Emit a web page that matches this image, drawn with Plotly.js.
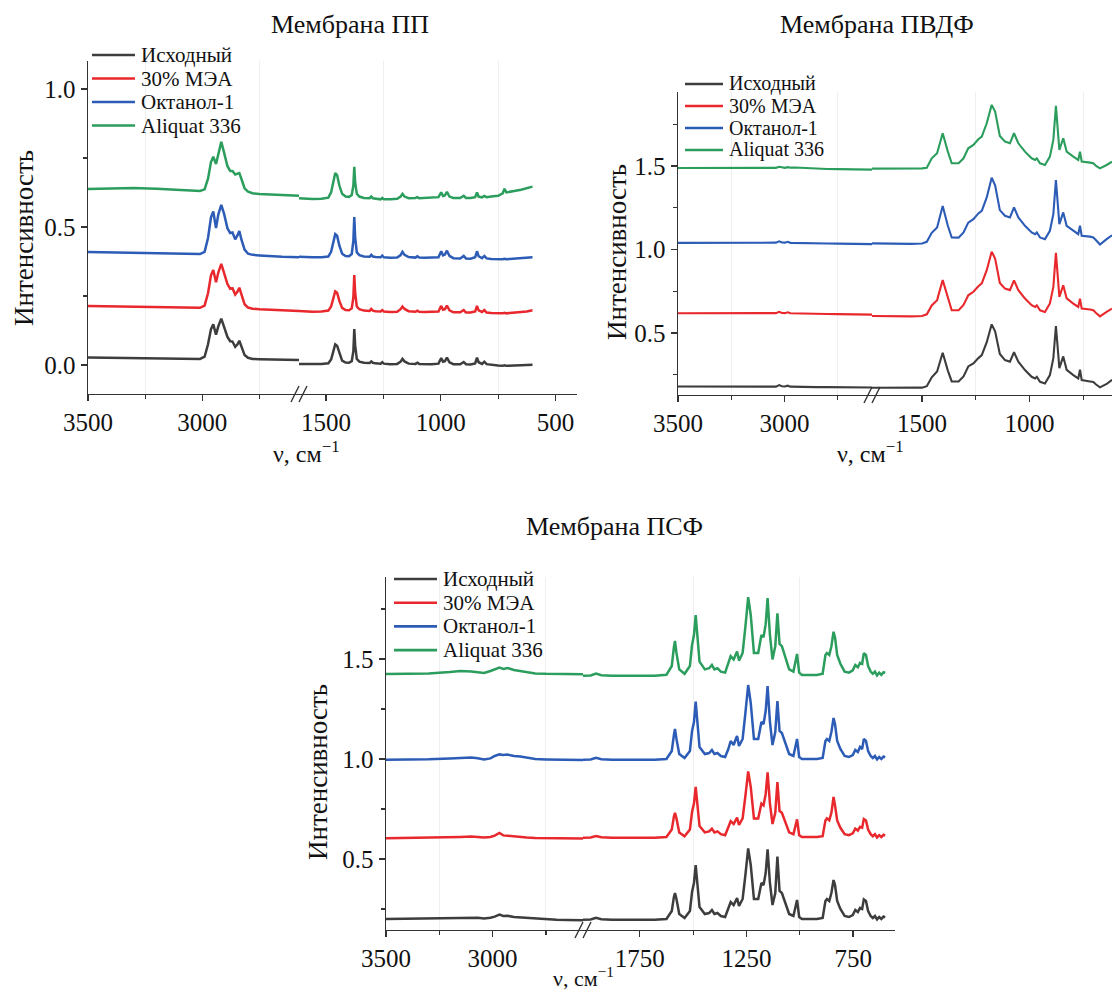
<!DOCTYPE html>
<html>
<head>
<meta charset="utf-8">
<script src="https://cdn.plot.ly/plotly-3.0.1.min.js"></script>
<style>html,body{margin:0;padding:0;background:#fff}#chart{width:1112px;height:993px}</style>
</head>
<body>
<div id="chart"></div>
<script>
// ---------- data: series names ----------
const SERIES_NAMES = ['Исходный', '30% МЭА', 'Октанол-1', 'Aliquat 336'];
const PANEL_TITLES = ['Мембрана ПП', 'Мембрана ПВДФ', 'Мембрана ПСФ'];

// ---------- Мембрана ПП ----------
const PP_L_X = [3500,3400,3300,3200,3100,3050,3010,2990,2975,2962,
  2952,2940,2930,2917,2905,2890,2878,2868,2856,2846,
  2838,2828,2815,2800,2780,2750,2700,2650,2577];
const PP_L_ISX = [0.027,0.026,0.025,0.024,0.023,0.022,0.022,0.03,0.075,0.13,
  0.147,0.11,0.14,0.168,0.142,0.102,0.086,0.085,0.066,0.075,
  0.088,0.062,0.036,0.026,0.022,0.021,0.02,0.019,0.018];
const PP_L_MEA = [0.214,0.213,0.212,0.211,0.209,0.208,0.207,0.215,0.26,0.325,
  0.344,0.30,0.335,0.366,0.335,0.293,0.276,0.278,0.255,0.266,
  0.28,0.25,0.22,0.208,0.204,0.202,0.2,0.198,0.196];
const PP_L_OCT = [0.409,0.408,0.407,0.406,0.404,0.403,0.402,0.41,0.46,0.535,
  0.556,0.496,0.545,0.58,0.548,0.495,0.478,0.48,0.455,0.47,
  0.485,0.452,0.418,0.403,0.399,0.397,0.394,0.392,0.39];
const PP_L_ALQ = [0.637,0.64,0.641,0.638,0.634,0.632,0.63,0.636,0.675,0.735,
  0.754,0.728,0.76,0.808,0.77,0.72,0.703,0.703,0.69,0.692,
  0.695,0.672,0.64,0.628,0.622,0.619,0.617,0.615,0.613];

const PP_R_X = [1618,1600,1560,1520,1490,1478,1468,1460,1452,1442,
  1430,1415,1400,1388,1381,1377,1373,1366,1355,1335,
  1310,1303,1296,1285,1262,1255,1248,1220,1190,1175,
  1167,1158,1140,1110,1102,1094,1070,1040,1010,998,
  990,982,973,962,945,915,900,890,870,850,
  842,835,820,810,800,780,750,730,722,714,
  700,680,650,625,600];
const PP_R_ISX = [0.004,0.004,0.003,0.004,0.006,0.02,0.05,0.075,0.07,0.042,
  0.016,0.009,0.008,0.014,0.05,0.13,0.07,0.022,0.012,0.008,
  0.007,0.013,0.008,0.006,0.005,0.01,0.005,0.003,0.004,0.012,
  0.022,0.013,0.005,0.004,0.008,0.004,0.003,0.003,0.005,0.025,
  0.012,0.014,0.027,0.01,0.003,0.003,0.011,0.003,0.002,0.006,
  0.027,0.01,0.004,0.012,0.003,0.0,-0.002,-0.003,-0.001,-0.003,
  -0.002,-0.002,-0.001,0.0,0.001];
const PP_R_MEA = [0.196,0.195,0.193,0.194,0.197,0.212,0.242,0.267,0.262,0.232,
  0.207,0.199,0.198,0.205,0.245,0.326,0.26,0.212,0.202,0.197,
  0.196,0.203,0.197,0.195,0.194,0.199,0.194,0.192,0.193,0.202,
  0.212,0.203,0.195,0.193,0.197,0.193,0.192,0.192,0.194,0.214,
  0.2,0.202,0.215,0.198,0.191,0.191,0.199,0.19,0.19,0.194,
  0.214,0.198,0.192,0.199,0.19,0.188,0.187,0.187,0.189,0.187,
  0.188,0.189,0.191,0.194,0.198];
const PP_R_OCT = [0.392,0.391,0.39,0.39,0.393,0.41,0.445,0.474,0.468,0.432,
  0.403,0.395,0.394,0.402,0.45,0.536,0.46,0.408,0.398,0.393,
  0.392,0.399,0.393,0.391,0.39,0.396,0.39,0.388,0.389,0.398,
  0.41,0.399,0.391,0.389,0.394,0.389,0.388,0.388,0.39,0.412,
  0.397,0.4,0.414,0.395,0.387,0.386,0.395,0.386,0.385,0.39,
  0.412,0.394,0.387,0.395,0.386,0.384,0.383,0.383,0.385,0.383,
  0.384,0.385,0.386,0.388,0.39];
const PP_R_ALQ = [0.604,0.603,0.601,0.602,0.606,0.625,0.66,0.695,0.688,0.65,
  0.62,0.61,0.609,0.616,0.65,0.718,0.66,0.62,0.61,0.605,
  0.604,0.61,0.604,0.602,0.6,0.605,0.6,0.6,0.602,0.61,
  0.62,0.61,0.604,0.605,0.608,0.604,0.605,0.607,0.608,0.625,
  0.612,0.614,0.627,0.61,0.605,0.605,0.613,0.605,0.605,0.608,
  0.625,0.61,0.607,0.612,0.608,0.61,0.613,0.622,0.638,0.625,
  0.626,0.63,0.635,0.64,0.646];

// ---------- Мембрана ПВДФ ----------
const PVDF_L_X = [3500,3400,3300,3200,3100,3060,3040,3025,3012,2998,
  2985,2972,2950,2900,2850,2800,2750,2700,2650,2589];
const PVDF_L_ISX = [0.18,0.18,0.179,0.179,0.178,0.178,0.179,0.188,0.181,0.18,
  0.185,0.179,0.178,0.177,0.176,0.176,0.175,0.175,0.174,0.174];
const PVDF_L_MEA = [0.618,0.619,0.62,0.62,0.619,0.618,0.619,0.627,0.62,0.619,
  0.624,0.618,0.617,0.616,0.615,0.614,0.613,0.612,0.611,0.61];
const PVDF_L_OCT = [1.04,1.041,1.042,1.042,1.041,1.04,1.041,1.049,1.042,1.041,
  1.046,1.04,1.039,1.038,1.037,1.036,1.035,1.034,1.033,1.032];
const PVDF_L_ALQ = [1.488,1.488,1.489,1.49,1.489,1.488,1.489,1.495,1.49,1.489,
  1.493,1.49,1.491,1.487,1.484,1.482,1.481,1.48,1.479,1.478];

const PVDF_R_X = [1733,1700,1650,1600,1550,1500,
  1478,1455,1430,1404,1380,1362,
  1330,1307,1285,1261,1238,1222,
  1199,1176,1160,1138,1114,1091,
  1072,1052,1021,990,974,966,
  951,928,905,889,877,861,
  843,827,796,773,765,757,
  718,703,690,672,641,616];
const PVDF_R_ISX = [0.172,0.172,0.171,0.17,0.17,0.173,
  0.182,0.235,0.27,0.382,0.275,0.21,
  0.21,0.24,0.30,0.318,0.35,0.368,
  0.445,0.552,0.51,0.375,0.338,0.328,
  0.385,0.328,0.278,0.238,0.228,0.238,
  0.208,0.198,0.248,0.35,0.542,0.29,
  0.36,0.28,0.248,0.228,0.28,0.218,
  0.21,0.207,0.192,0.175,0.195,0.22];
const PVDF_R_MEA = [0.602,0.601,0.6,0.6,0.6,0.602,
  0.612,0.665,0.697,0.817,0.705,0.636,
  0.636,0.668,0.726,0.747,0.78,0.797,
  0.876,0.987,0.946,0.8,0.766,0.757,
  0.815,0.757,0.706,0.667,0.656,0.666,
  0.636,0.626,0.677,0.776,0.98,0.716,
  0.786,0.707,0.676,0.656,0.706,0.646,
  0.641,0.636,0.62,0.6,0.627,0.646];
const PVDF_R_OCT = [1.037,1.036,1.035,1.034,1.034,1.036,
  1.046,1.1,1.132,1.26,1.142,1.072,
  1.071,1.102,1.161,1.182,1.216,1.232,
  1.312,1.43,1.385,1.236,1.202,1.192,
  1.252,1.192,1.142,1.102,1.092,1.102,
  1.072,1.062,1.112,1.212,1.415,1.152,
  1.222,1.142,1.112,1.092,1.142,1.082,
  1.077,1.072,1.055,1.03,1.062,1.085];
const PVDF_R_ALQ = [1.484,1.484,1.483,1.483,1.484,1.486,
  1.49,1.546,1.576,1.696,1.586,1.516,
  1.516,1.546,1.606,1.626,1.66,1.676,
  1.756,1.866,1.826,1.68,1.646,1.636,
  1.696,1.636,1.586,1.546,1.536,1.546,
  1.516,1.506,1.556,1.656,1.86,1.596,
  1.666,1.586,1.556,1.536,1.586,1.526,
  1.52,1.516,1.50,1.486,1.506,1.526];

// ---------- Мембрана ПСФ ----------
const PSF_L_X = [3500,3400,3300,3200,3150,3100,3070,3040,3010,2990,
  2968,2950,2930,2900,2870,2840,2800,2750,2700,2650,2576];
const PSF_L_ISX = [0.2,0.201,0.202,0.203,0.205,0.207,0.206,0.203,0.206,0.212,
  0.222,0.215,0.216,0.21,0.208,0.203,0.2,0.198,0.196,0.195,0.194];
const PSF_L_MEA = [0.604,0.605,0.607,0.609,0.61,0.612,0.611,0.607,0.61,0.617,
  0.63,0.618,0.616,0.612,0.611,0.607,0.605,0.604,0.603,0.603,0.602];
const PSF_L_OCT = [0.996,0.997,0.999,1.003,1.006,1.008,1.004,0.998,1.003,1.015,
  1.023,1.02,1.022,1.015,1.012,1.006,1.0,0.998,0.997,0.996,0.995];
const PSF_L_ALQ = [1.425,1.426,1.428,1.435,1.44,1.438,1.433,1.43,1.44,1.45,
  1.457,1.45,1.455,1.445,1.44,1.432,1.428,1.426,1.425,1.424,1.424];

const PSF_R_X = [2016,1980,1955,1930,1880,1820,1750,1680,1625,1600,
  1590,1585,1578,1565,1540,1515,1505,1496,1488,1480,
  1470,1445,1425,1412,1400,1386,1370,1350,1335,1324,
  1310,1300,1294,1285,1268,1255,1242,1230,1215,1195,
  1180,1170,1160,1151,1140,1128,1115,1105,1095,1084,
  1070,1050,1030,1013,1003,990,960,920,893,880,
  873,862,852,842,835,825,810,790,770,752,
  740,728,718,708,700,690,680,668,658,648,
  638,628,618,608,600];
const PSF_R_ISX = [0.196,0.198,0.206,0.199,0.196,0.195,0.195,0.196,0.2,0.24,
  0.31,0.33,0.3,0.225,0.205,0.24,0.335,0.38,0.47,0.38,
  0.26,0.225,0.23,0.245,0.225,0.23,0.215,0.21,0.25,0.285,
  0.27,0.29,0.305,0.265,0.3,0.42,0.553,0.47,0.3,0.3,
  0.38,0.37,0.43,0.548,0.38,0.27,0.33,0.512,0.34,0.33,
  0.29,0.225,0.215,0.295,0.21,0.2,0.2,0.2,0.205,0.29,
  0.3,0.29,0.33,0.395,0.37,0.29,0.25,0.215,0.21,0.22,
  0.245,0.235,0.255,0.25,0.298,0.29,0.24,0.215,0.205,0.215,
  0.198,0.21,0.2,0.212,0.208];
const PSF_R_MEA = [0.606,0.608,0.615,0.609,0.606,0.605,0.605,0.606,0.61,0.647,
  0.712,0.731,0.703,0.633,0.614,0.647,0.735,0.777,0.861,0.777,
  0.665,0.633,0.638,0.652,0.633,0.638,0.624,0.619,0.656,0.689,
  0.675,0.693,0.707,0.67,0.703,0.815,0.938,0.861,0.703,0.703,
  0.777,0.768,0.824,0.933,0.777,0.675,0.731,0.885,0.74,0.731,
  0.693,0.633,0.624,0.698,0.619,0.61,0.61,0.61,0.614,0.693,
  0.703,0.693,0.731,0.81,0.768,0.693,0.656,0.624,0.619,0.628,
  0.652,0.642,0.661,0.656,0.7,0.693,0.647,0.624,0.614,0.624,
  0.608,0.619,0.61,0.621,0.617];
const PSF_R_OCT = [0.996,0.998,1.006,0.999,0.996,0.995,0.995,0.996,1.0,1.04,
  1.12,1.15,1.1,1.025,1.005,1.04,1.14,1.185,1.287,1.185,
  1.06,1.025,1.03,1.045,1.025,1.03,1.015,1.01,1.05,1.09,
  1.07,1.1,1.115,1.065,1.1,1.23,1.37,1.28,1.1,1.1,
  1.185,1.175,1.24,1.365,1.185,1.07,1.135,1.29,1.14,1.13,
  1.09,1.025,1.015,1.1,1.01,1.0,1.0,1.0,1.005,1.09,
  1.1,1.09,1.135,1.205,1.175,1.09,1.05,1.015,1.01,1.02,
  1.045,1.035,1.06,1.05,1.1,1.09,1.04,1.015,1.005,1.015,
  0.998,1.01,1.0,1.012,1.008];
const PSF_R_ALQ = [1.416,1.418,1.427,1.419,1.416,1.415,1.415,1.416,1.421,1.465,
  1.56,1.59,1.53,1.448,1.426,1.465,1.57,1.62,1.72,1.62,
  1.487,1.448,1.454,1.47,1.448,1.454,1.437,1.432,1.476,1.514,
  1.498,1.52,1.537,1.492,1.53,1.662,1.809,1.72,1.53,1.53,
  1.62,1.609,1.674,1.804,1.62,1.498,1.564,1.728,1.575,1.564,
  1.52,1.448,1.437,1.525,1.432,1.42,1.42,1.42,1.426,1.52,
  1.53,1.52,1.564,1.636,1.608,1.52,1.476,1.437,1.432,1.443,
  1.47,1.459,1.481,1.476,1.529,1.52,1.465,1.437,1.426,1.437,
  1.418,1.432,1.421,1.434,1.43];

// ---------- tick labels ----------
const X_LEFT_TICKS = [3500, 3000];
const X_RIGHT_TICKS_A = [1500, 1000, 500];
const X_RIGHT_TICKS_B = [1750, 1250, 750];
const Y_TICKS_A = [0.0, 0.5, 1.0];
const Y_TICKS_B = [0.5, 1.0, 1.5];

// ---------- styling / layout (positions in px) ----------
const W = 1112, H = 993;
const COLORS = ['#3d3d3d', '#e8282c', '#2c5cb6', '#2b9d5c'];
const FONT = 'Liberation Serif, Times New Roman, serif';
const TXT = '#111';
const px = v => v / W;
const py = v => 1 - v / H;

const panels = [
  { lx: PP_L_X, ly: [PP_L_ISX, PP_L_MEA, PP_L_OCT, PP_L_ALQ],
    rx: PP_R_X, ry: [PP_R_ISX, PP_R_MEA, PP_R_OCT, PP_R_ALQ],
    xl: 'x', xr: 'x2', y: 'y', lw: 2.5,
    ldom: [88, 299], lrange: [3500, 2577], rdom: [299, 577], rrange: [1618, 406],
    rticks: X_RIGHT_TICKS_A, rminor: [1250, 750],
    ydom: [61, 394], yrange: [-0.105, 1.101], yticks: Y_TICKS_A, yminor: [0.25, 0.75],
    leg: { x0: 92, x1: 135, tx: 139, y0: 55, dy: 23.5, fs: 21 },
    title: [350, 24], xt: [306, 452, 24], yt: [24, 238] },
  { lx: PVDF_L_X, ly: [PVDF_L_ISX, PVDF_L_MEA, PVDF_L_OCT, PVDF_L_ALQ],
    rx: PVDF_R_X, ry: [PVDF_R_ISX, PVDF_R_MEA, PVDF_R_OCT, PVDF_R_ALQ],
    xl: 'x3', xr: 'x4', y: 'y2', lw: 2.1,
    ldom: [678, 872], lrange: [3500, 2589], rdom: [872, 1112], rrange: [1733, 616],
    rticks: X_RIGHT_TICKS_A, rminor: [1250, 750],
    ydom: [92, 395], yrange: [0.129, 1.943], yticks: Y_TICKS_B, yminor: [0.25, 0.75, 1.25, 1.75],
    leg: { x0: 685, x1: 723, tx: 727, y0: 84, dy: 22, fs: 20 },
    title: [877, 24], xt: [870, 452, 24], yt: [617, 252] },
  { lx: PSF_L_X, ly: [PSF_L_ISX, PSF_L_MEA, PSF_L_OCT, PSF_L_ALQ],
    rx: PSF_R_X, ry: [PSF_R_ISX, PSF_R_MEA, PSF_R_OCT, PSF_R_ALQ],
    xl: 'x5', xr: 'x6', y: 'y3', lw: 2.5,
    ldom: [386, 583], lrange: [3500, 2576], rdom: [583, 895], rrange: [2016, 554],
    rticks: X_RIGHT_TICKS_B, rminor: [1500, 1000],
    ydom: [577, 930], yrange: [0.145, 1.91], yticks: Y_TICKS_B, yminor: [0.25, 0.75, 1.25, 1.75],
    leg: { x0: 394, x1: 437, tx: 441, y0: 579, dy: 23.7, fs: 21 },
    title: [614, 526], xt: [583, 977, 22], yt: [318, 772] }
];

const traces = [];
const layout = {
  width: W, height: H,
  margin: { l: 0, r: 0, t: 0, b: 0 },
  paper_bgcolor: '#fff', plot_bgcolor: 'rgba(0,0,0,0)',
  showlegend: false,
  font: { family: FONT, color: TXT },
  annotations: [], shapes: []
};

function axisName(ref) { return ref === 'x' ? 'xaxis' : 'xaxis' + ref.slice(1); }
function yAxisName(ref) { return ref === 'y' ? 'yaxis' : 'yaxis' + ref.slice(1); }

const baseAxis = {
  showline: true, linecolor: '#333', linewidth: 1.4, mirror: false,
  ticks: 'outside', ticklen: 6, tickwidth: 1.4, tickcolor: '#333',
  showgrid: false, zeroline: false, fixedrange: true,
  tickfont: { family: FONT, size: 25, color: TXT }
};

panels.forEach((p, k) => {
  for (let i = 0; i < 4; i++) {
    traces.push({ type: 'scatter', mode: 'lines', x: p.lx, y: p.ly[i], xaxis: p.xl, yaxis: p.y,
      name: SERIES_NAMES[i], showlegend: false,
      line: { color: COLORS[i], width: p.lw }, hoverinfo: 'skip' });
    traces.push({ type: 'scatter', mode: 'lines', x: p.rx, y: p.ry[i], xaxis: p.xr, yaxis: p.y,
      name: SERIES_NAMES[i], showlegend: false,
      line: { color: COLORS[i], width: p.lw }, hoverinfo: 'skip' });
    // legend entry (line sample + label)
    const ly = p.leg.y0 + i * p.leg.dy;
    layout.shapes.push({ type: 'line', xref: 'paper', yref: 'paper',
      x0: px(p.leg.x0), x1: px(p.leg.x1), y0: py(ly), y1: py(ly),
      line: { color: COLORS[i], width: 2.6 } });
    layout.annotations.push({ xref: 'paper', yref: 'paper', x: px(p.leg.tx), y: py(ly),
      text: SERIES_NAMES[i], showarrow: false, xanchor: 'left', yanchor: 'middle',
      font: { family: FONT, size: p.leg.fs, color: TXT } });
  }
  const minorGrid = { ticks: 'outside', ticklen: 4, tickwidth: 1.2, tickcolor: '#333', showgrid: true, gridcolor: '#efefef', gridwidth: 1 };
  layout[axisName(p.xl)] = Object.assign({}, baseAxis, {
    domain: [px(p.ldom[0]), px(p.ldom[1])], range: p.lrange, anchor: p.y,
    tickmode: 'array', tickvals: X_LEFT_TICKS, ticktext: X_LEFT_TICKS.map(String),
    minor: Object.assign({ tickvals: [3250, 2750] }, minorGrid) });
  layout[axisName(p.xr)] = Object.assign({}, baseAxis, {
    domain: [px(p.rdom[0]), Math.min(1, px(p.rdom[1]))], range: p.rrange, anchor: p.y,
    tickmode: 'array', tickvals: p.rticks, ticktext: p.rticks.map(String),
    minor: Object.assign({ tickvals: p.rminor }, minorGrid) });
  layout[yAxisName(p.y)] = Object.assign({}, baseAxis, {
    domain: [py(p.ydom[1]), py(p.ydom[0])], range: p.yrange, anchor: p.xl,
    tickmode: 'array', tickvals: p.yticks, ticktext: p.yticks.map(v => v.toFixed(1)),
    minor: { tickvals: p.yminor, ticks: 'outside', ticklen: 4, tickwidth: 1.2, tickcolor: '#333' } });
  // titles
  layout.annotations.push({ xref: 'paper', yref: 'paper', x: px(p.title[0]), y: py(p.title[1]),
    text: PANEL_TITLES[k], showarrow: false, xanchor: 'center', yanchor: 'middle',
    font: { family: FONT, size: 26, color: TXT } });
  layout.annotations.push({ xref: 'paper', yref: 'paper', x: px(p.xt[0]), y: py(p.xt[1]),
    text: 'ν, см<sup>−1</sup>', showarrow: false, xanchor: 'center', yanchor: 'middle',
    font: { family: FONT, size: p.xt[2], color: TXT } });
  layout.annotations.push({ xref: 'paper', yref: 'paper', x: px(p.yt[0]), y: py(p.yt[1]),
    text: 'Интенсивность', textangle: -90, showarrow: false, xanchor: 'center', yanchor: 'middle',
    font: { family: FONT, size: 27, color: TXT } });
  // axis break mark "//"
  const bx = p.ldom[1], by = p.ydom[1];
  [-4, 4].forEach(d => {
    layout.shapes.push({ type: 'line', xref: 'paper', yref: 'paper',
      x0: px(bx + d - 4), y0: py(by + 8), x1: px(bx + d + 4), y1: py(by - 8),
      line: { color: '#333', width: 1.4 } });
  });
});

Plotly.newPlot('chart', traces, layout, { displayModeBar: false, staticPlot: true });
</script>
</body>
</html>
